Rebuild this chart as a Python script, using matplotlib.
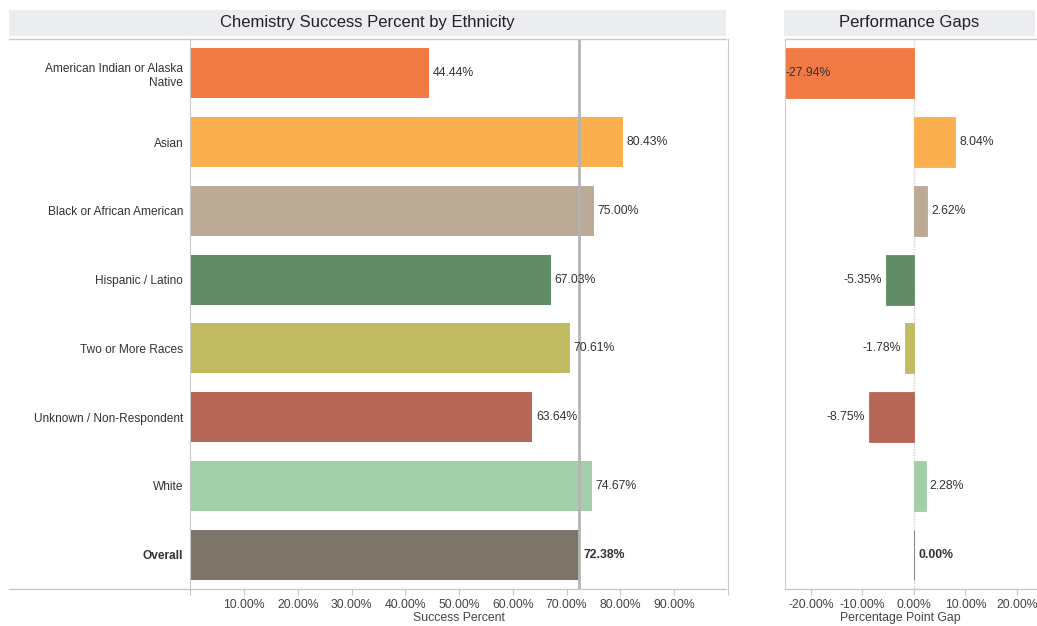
import matplotlib
matplotlib.use('Agg')

import matplotlib.pyplot as plt
from matplotlib.patches import Rectangle
from matplotlib.lines import Line2D

plt.rcParams['font.family'] = ['Liberation Sans', 'DejaVu Sans']

# Data
categories = ['American Indian or Alaska\nNative', 'Asian', 'Black or African American',
              'Hispanic / Latino', 'Two or More Races', 'Unknown / Non-Respondent',
              'White', 'Overall']
success = [44.44, 80.43, 75.00, 67.03, 70.61, 63.64, 74.67, 72.38]
gaps = [-27.94, 8.04, 2.62, -5.35, -1.78, -8.75, 2.28, 0.00]
colors = ['#F27B45', '#FBB04F', '#BBAA96', '#618C65', '#C1BC62', '#B86656', '#A3CEAA', '#7D746A']

left_ticks = [0, 10, 20, 30, 40, 50, 60, 70, 80, 90, 100]
left_ticklabels = ['', '10.00%', '20.00%', '30.00%', '40.00%', '50.00%', '60.00%',
                   '70.00%', '80.00%', '90.00%', '']
right_ticks = [-20, -10, 0, 10, 20]

W, H = 1037, 626
fig = plt.figure(figsize=(W / 100, H / 100), dpi=100)


def px(x0, y0, x1, y1):
    # pixel box (top-left origin) -> figure fraction rect
    return [x0 / W, 1 - y1 / H, (x1 - x0) / W, (y1 - y0) / H]


top, bottom = 39, 589
ax1 = fig.add_axes(px(190.3, top, 728, bottom))
ax2 = fig.add_axes(px(785, top, 1037, bottom))

grid_col = '#C8C8C8'
text_col = '#333333'
tick_col = '#444444'
fs_lab = 8.6
fs_val = 8.8
fs_tick = 8.8
label_y = -0.042

ypos = list(range(len(categories)))
bar_h = 0.73

# Left panel
ax1.barh(ypos, success, height=bar_h, color=colors, zorder=2)
ax1.set_xlim(0, 100)
ax1.set_ylim(len(categories) - 0.5, -0.5)
ax1.axvline(success[-1], color='#B4B4B4', lw=2, zorder=3)
for i, v in enumerate(success):
    ax1.text(v + 0.7, i, f'{v:.2f}%', va='center', ha='left', fontsize=fs_val,
             color=text_col, fontweight='bold' if categories[i] == 'Overall' else 'normal',
             zorder=4)
ax1.set_yticks(ypos)
ax1.set_yticklabels(categories, fontsize=fs_lab, color=text_col)
for lab in ax1.get_yticklabels():
    if lab.get_text() == 'Overall':
        lab.set_fontweight('bold')
ax1.tick_params(axis='y', length=0, pad=5)
ax1.set_xticks(left_ticks)
ax1.set_xticklabels(left_ticklabels, fontsize=fs_tick, color=tick_col)
ax1.tick_params(axis='x', length=4, color=grid_col, pad=3)
ax1.set_xlabel('Success Percent', fontsize=fs_tick, color=tick_col)
ax1.xaxis.set_label_coords(0.5, label_y)
for s in ['top', 'bottom']:
    ax1.spines[s].set_visible(False)
ax1.spines['left'].set_color(grid_col)
ax1.spines['right'].set_color(grid_col)

# Right panel
ax2.barh(ypos, gaps, height=bar_h, color=colors, edgecolor=colors, lw=0.6, zorder=2)
ax2.set_xlim(-25.05, 23.9)
ax2.set_ylim(len(categories) - 0.5, -0.5)
ax2.axvline(0, color='#D0D0D0', lw=1, ls=(0, (1, 1)), zorder=1)
xmin = ax2.get_xlim()[0]
for i, v in enumerate(gaps):
    weight = 'bold' if categories[i] == 'Overall' else 'normal'
    if v >= 0:
        ax2.text(v + 0.8, i, f'{v:.2f}%', va='center', ha='left', fontsize=fs_val,
                 color=text_col, fontweight=weight, zorder=4)
    elif v - 8 < xmin:
        ax2.text(xmin + 0.1, i, f'{v:.2f}%', va='center', ha='left', fontsize=fs_val,
                 color=text_col, fontweight=weight, zorder=4)
    else:
        ax2.text(v - 0.8, i, f'{v:.2f}%', va='center', ha='right', fontsize=fs_val,
                 color=text_col, fontweight=weight, zorder=4)
ax2.set_yticks([])
ax2.set_xticks(right_ticks)
ax2.set_xticklabels([f'{t:.2f}%' for t in right_ticks], fontsize=fs_tick, color=tick_col)
ax2.tick_params(axis='x', length=4, color=grid_col, pad=3)
ax2.set_xlabel('Percentage Point Gap', fontsize=fs_tick, color=tick_col)
ax2.xaxis.set_label_coords(0.456, label_y)
for s in ['top', 'bottom', 'right']:
    ax2.spines[s].set_visible(False)
ax2.spines['left'].set_color(grid_col)

# Frame lines and title bands
for (x0, x1) in [(9, 726), (785, 1037)]:
    for y in (top, bottom):
        fig.add_artist(Line2D([x0 / W, x1 / W], [1 - y / H, 1 - y / H],
                              color=grid_col, lw=1))

band_col = '#ECEDF0'
fig.add_artist(Rectangle((9 / W, 1 - 36 / H), (726 - 9) / W, 26 / H,
                         color=band_col, lw=0))
fig.add_artist(Rectangle((784 / W, 1 - 36 / H), (1035 - 784) / W, 26 / H,
                         color=band_col, lw=0))
fig.text((9 + 726) / 2 / W, 1 - 23 / H, 'Chemistry Success Percent by Ethnicity',
         ha='center', va='center', fontsize=12, color='#222222')
fig.text((784 + 1035) / 2 / W, 1 - 23 / H, 'Performance Gaps',
         ha='center', va='center', fontsize=12, color='#222222')

plt.savefig('out.png', dpi=100)
